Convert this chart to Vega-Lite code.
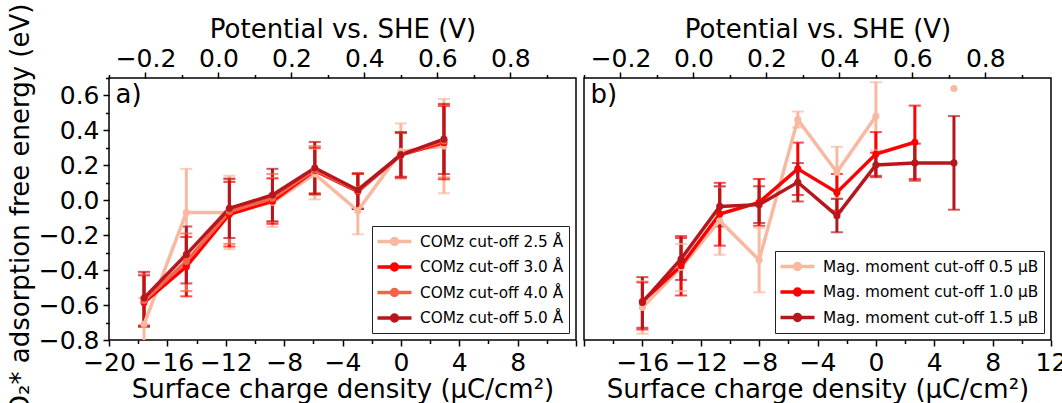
{
  "$schema": "https://vega.github.io/schema/vega-lite/v6.json",
  "padding": {"left": 6, "top": 2, "right": 5, "bottom": 0},
  "background": "white",
  "config": {
    "font": "DejaVu Sans",
    "view": {"stroke": "black", "strokeWidth": 1.5},
    "axis": {
      "domain": false, "grid": false,
      "labelFont": "DejaVu Sans", "titleFont": "DejaVu Sans",
      "labelFontSize": 25, "titleFontSize": 26, "titleFontWeight": "normal",
      "labelColor": "black", "titleColor": "black", "tickColor": "black",
      "tickWidth": 1.5, "labelFlush": false, "labelPadding": 4, "titlePadding": 1
    },
    "legend": {
      "orient": "bottom-right", "offset": 7, "title": null,
      "labelFont": "DejaVu Sans", "labelFontSize": 15.3, "labelColor": "black", "labelLimit": 400,
      "strokeColor": "#222222", "fillColor": "white", "padding": 5, "rowPadding": 4.5,
      "symbolType": "M-2,0L2,0M-0.35,0A0.35,0.35 0 1,1 0.35,0A0.35,0.35 0 1,1 -0.35,0Z",
      "symbolSize": 289, "symbolStrokeWidth": 3.5, "symbolOffset": 7, "labelOffset": 15, "symbolOpacity": 1
    }
  },
  "datasets": {
    "a": [
      {"s": "COMz cut-off 2.5 Å", "x": -17.6, "y": -0.71, "lo": -0.86, "hi": -0.56},
      {"s": "COMz cut-off 2.5 Å", "x": -14.7, "y": -0.07, "lo": -0.32, "hi": 0.18},
      {"s": "COMz cut-off 2.5 Å", "x": -11.75, "y": -0.07, "lo": -0.28, "hi": 0.14},
      {"s": "COMz cut-off 2.5 Å", "x": -8.8, "y": -0.012, "lo": -0.152, "hi": 0.128},
      {"s": "COMz cut-off 2.5 Å", "x": -5.9, "y": 0.15, "lo": 0.005, "hi": 0.295},
      {"s": "COMz cut-off 2.5 Å", "x": -2.95, "y": -0.06, "lo": -0.195, "hi": 0.075},
      {"s": "COMz cut-off 2.5 Å", "x": 0.0, "y": 0.28, "lo": 0.12, "hi": 0.44},
      {"s": "COMz cut-off 2.5 Å", "x": 2.95, "y": 0.31, "lo": 0.04, "hi": 0.58},
      {"s": "COMz cut-off 3.0 Å", "x": -17.6, "y": -0.585, "lo": -0.725, "hi": -0.43},
      {"s": "COMz cut-off 3.0 Å", "x": -14.7, "y": -0.38, "lo": -0.55, "hi": -0.21},
      {"s": "COMz cut-off 3.0 Å", "x": -11.75, "y": -0.08, "lo": -0.265, "hi": 0.105},
      {"s": "COMz cut-off 3.0 Å", "x": -8.8, "y": -0.005, "lo": -0.135, "hi": 0.125},
      {"s": "COMz cut-off 3.0 Å", "x": -5.9, "y": 0.17, "lo": 0.04, "hi": 0.3},
      {"s": "COMz cut-off 3.0 Å", "x": -2.95, "y": 0.05, "lo": -0.05, "hi": 0.15},
      {"s": "COMz cut-off 3.0 Å", "x": 0.0, "y": 0.26, "lo": 0.135, "hi": 0.385},
      {"s": "COMz cut-off 3.0 Å", "x": 2.95, "y": 0.33, "lo": 0.12, "hi": 0.54},
      {"s": "COMz cut-off 4.0 Å", "x": -17.6, "y": -0.575, "lo": -0.715, "hi": -0.425},
      {"s": "COMz cut-off 4.0 Å", "x": -14.7, "y": -0.35, "lo": -0.52, "hi": -0.19},
      {"s": "COMz cut-off 4.0 Å", "x": -11.75, "y": -0.065, "lo": -0.25, "hi": 0.12},
      {"s": "COMz cut-off 4.0 Å", "x": -8.8, "y": 0.01, "lo": -0.125, "hi": 0.15},
      {"s": "COMz cut-off 4.0 Å", "x": -5.9, "y": 0.175, "lo": 0.03, "hi": 0.31},
      {"s": "COMz cut-off 4.0 Å", "x": -2.95, "y": 0.055, "lo": -0.045, "hi": 0.155},
      {"s": "COMz cut-off 4.0 Å", "x": 0.0, "y": 0.26, "lo": 0.13, "hi": 0.39},
      {"s": "COMz cut-off 4.0 Å", "x": 2.95, "y": 0.34, "lo": 0.13, "hi": 0.545},
      {"s": "COMz cut-off 5.0 Å", "x": -17.6, "y": -0.56, "lo": -0.72, "hi": -0.41},
      {"s": "COMz cut-off 5.0 Å", "x": -14.7, "y": -0.31, "lo": -0.476, "hi": -0.15},
      {"s": "COMz cut-off 5.0 Å", "x": -11.75, "y": -0.046, "lo": -0.216, "hi": 0.124},
      {"s": "COMz cut-off 5.0 Å", "x": -8.8, "y": 0.03, "lo": -0.12, "hi": 0.18},
      {"s": "COMz cut-off 5.0 Å", "x": -5.9, "y": 0.185, "lo": 0.036, "hi": 0.334},
      {"s": "COMz cut-off 5.0 Å", "x": -2.95, "y": 0.059, "lo": -0.05, "hi": 0.154},
      {"s": "COMz cut-off 5.0 Å", "x": 0.0, "y": 0.26, "lo": 0.13, "hi": 0.39},
      {"s": "COMz cut-off 5.0 Å", "x": 2.95, "y": 0.35, "lo": 0.15, "hi": 0.552}
    ],
    "b": [
      {"s": "Mag. moment cut-off 0.5 μB", "x": -16.0, "y": -0.614, "lo": -0.764, "hi": -0.464},
      {"s": "Mag. moment cut-off 0.5 μB", "x": -13.35, "y": -0.384, "lo": -0.52, "hi": -0.25},
      {"s": "Mag. moment cut-off 0.5 μB", "x": -10.7, "y": -0.117, "lo": -0.312, "hi": 0.078},
      {"s": "Mag. moment cut-off 0.5 μB", "x": -8.0, "y": -0.342, "lo": -0.527, "hi": -0.157},
      {"s": "Mag. moment cut-off 0.5 μB", "x": -5.35, "y": 0.462, "lo": 0.416, "hi": 0.508},
      {"s": "Mag. moment cut-off 0.5 μB", "x": -2.67, "y": 0.16, "lo": 0.013, "hi": 0.307},
      {"s": "Mag. moment cut-off 0.5 μB", "x": 0.0, "y": 0.481, "lo": 0.286, "hi": 0.676},
      {"s": "Mag. moment cut-off 0.5 μB", "x": 2.67, "y": null, "lo": null, "hi": null},
      {"s": "Mag. moment cut-off 0.5 μB", "x": 5.35, "y": 0.64, "lo": null, "hi": null},
      {"s": "Mag. moment cut-off 1.0 μB", "x": -16.0, "y": -0.58, "lo": -0.74, "hi": -0.47},
      {"s": "Mag. moment cut-off 1.0 μB", "x": -13.35, "y": -0.375, "lo": -0.545, "hi": -0.205},
      {"s": "Mag. moment cut-off 1.0 μB", "x": -10.7, "y": -0.079, "lo": -0.26, "hi": 0.1},
      {"s": "Mag. moment cut-off 1.0 μB", "x": -8.0, "y": -0.012, "lo": -0.146, "hi": 0.122},
      {"s": "Mag. moment cut-off 1.0 μB", "x": -5.35, "y": 0.18, "lo": 0.03, "hi": 0.33},
      {"s": "Mag. moment cut-off 1.0 μB", "x": -2.67, "y": 0.045, "lo": -0.06, "hi": 0.15},
      {"s": "Mag. moment cut-off 1.0 μB", "x": 0.0, "y": 0.265, "lo": 0.14, "hi": 0.39},
      {"s": "Mag. moment cut-off 1.0 μB", "x": 2.67, "y": 0.332, "lo": 0.122, "hi": 0.542},
      {"s": "Mag. moment cut-off 1.5 μB", "x": -16.0, "y": -0.585, "lo": -0.73, "hi": -0.44},
      {"s": "Mag. moment cut-off 1.5 μB", "x": -13.35, "y": -0.336, "lo": -0.456, "hi": -0.216},
      {"s": "Mag. moment cut-off 1.5 μB", "x": -10.7, "y": -0.035, "lo": -0.15, "hi": 0.08},
      {"s": "Mag. moment cut-off 1.5 μB", "x": -8.0, "y": -0.025, "lo": -0.13, "hi": 0.08},
      {"s": "Mag. moment cut-off 1.5 μB", "x": -5.35, "y": 0.103, "lo": -0.007, "hi": 0.213},
      {"s": "Mag. moment cut-off 1.5 μB", "x": -2.67, "y": -0.088, "lo": -0.183, "hi": 0.007},
      {"s": "Mag. moment cut-off 1.5 μB", "x": 0.0, "y": 0.202, "lo": 0.132, "hi": 0.272},
      {"s": "Mag. moment cut-off 1.5 μB", "x": 2.67, "y": 0.214, "lo": 0.112, "hi": 0.324},
      {"s": "Mag. moment cut-off 1.5 μB", "x": 5.35, "y": 0.214, "lo": -0.054, "hi": 0.482}
    ],
    "va": [{"V": -0.3}, {"V": 0.98}]
  },
  "hconcat": [
    {
      "width": 467, "height": 262,
      "layer": [
        {
          "data": {"name": "a"},
          "layer": [
            {"mark": {"type": "rule", "strokeWidth": 3, "clip": true},
             "encoding": {
               "x": {"field": "x", "type": "quantitative", "scale": {"domain": [-20, 12], "nice": false, "zero": false}, "title": "Surface charge density (µC/cm²)",
                     "axis": {"values": [-20,-18,-16,-14,-12,-10,-8,-6,-4,-2,0,2,4,6,8,10,12], "tickCount": 100, "format": "d", "labelOverlap": false, "labelExpr": "datum.value % 4 === 0 && datum.value < 12 ? datum.label : ''", "tickSize": {"condition": {"test": "datum.value % 4 === 0", "value": 6}, "value": 3.5}}},
               "y": {"field": "lo", "type": "quantitative", "scale": {"domain": [-0.8, 0.7], "nice": false, "zero": false}, "title": "O₂* adsorption free energy (eV)",
                     "axis": {"values": [-0.8,-0.7,-0.6,-0.5,-0.4,-0.3,-0.2,-0.1,0,0.1,0.2,0.3,0.4,0.5,0.6,0.7], "tickCount": 100, "format": ".1f", "labelOverlap": false,
                              "labelExpr": "abs(round(datum.value*10)) % 2 === 0 && datum.value < 0.65 ? datum.label : ''",
                              "tickSize": {"condition": {"test": "abs(round(datum.value*10)) % 2 === 0", "value": 6}, "value": 3.5}, "titlePadding": 5}},
               "y2": {"field": "hi"},
               "stroke": {"field": "s", "type": "nominal", "scale": {"domain": ["COMz cut-off 2.5 Å", "COMz cut-off 3.0 Å", "COMz cut-off 4.0 Å", "COMz cut-off 5.0 Å"], "range": ["#f9b8a0", "#ff0000", "#f3634a", "#b5171d"]}}
             }},
            {"mark": {"type": "tick", "orient": "horizontal", "size": 12, "thickness": 2, "clip": true},
             "encoding": {
               "x": {"field": "x", "type": "quantitative", "title": "Surface charge density (µC/cm²)"},
               "y": {"field": "lo", "type": "quantitative", "title": "O₂* adsorption free energy (eV)"},
               "fill": {"field": "s", "type": "nominal", "scale": {"domain": ["COMz cut-off 2.5 Å", "COMz cut-off 3.0 Å", "COMz cut-off 4.0 Å", "COMz cut-off 5.0 Å"], "range": ["#f9b8a0", "#ff0000", "#f3634a", "#b5171d"]}}
             }},
            {"mark": {"type": "tick", "orient": "horizontal", "size": 12, "thickness": 2, "clip": true},
             "encoding": {
               "x": {"field": "x", "type": "quantitative", "title": "Surface charge density (µC/cm²)"},
               "y": {"field": "hi", "type": "quantitative", "title": "O₂* adsorption free energy (eV)"},
               "fill": {"field": "s", "type": "nominal"}
             }},
            {"mark": {"type": "line", "strokeWidth": 3.5, "clip": true},
             "encoding": {
               "x": {"field": "x", "type": "quantitative", "title": "Surface charge density (µC/cm²)"},
               "y": {"field": "y", "type": "quantitative", "title": "O₂* adsorption free energy (eV)"},
               "stroke": {"field": "s", "type": "nominal"}
             }},
            {"mark": {"type": "point", "filled": true, "size": 50, "opacity": 1, "clip": true},
             "encoding": {
               "x": {"field": "x", "type": "quantitative", "title": "Surface charge density (µC/cm²)"},
               "y": {"field": "y", "type": "quantitative", "title": "O₂* adsorption free energy (eV)"},
               "fill": {"field": "s", "type": "nominal"}
             }},
            {"data": {"values": [{"t": "a)", "x": -19.55, "y": 0.6}]},
             "mark": {"type": "text", "fontSize": 26, "align": "left", "baseline": "middle", "font": "DejaVu Sans", "color": "black"},
             "encoding": {
               "x": {"field": "x", "type": "quantitative", "title": "Surface charge density (µC/cm²)"},
               "y": {"field": "y", "type": "quantitative", "title": "O₂* adsorption free energy (eV)"},
               "text": {"field": "t"}
             }}
          ]
        },
        {"data": {"name": "va"},
         "mark": {"type": "point", "opacity": 0},
         "encoding": {
           "x": {"field": "V", "type": "quantitative", "scale": {"domain": [-0.3, 0.98], "nice": false, "zero": false}, "title": "Potential vs. SHE (V)",
                 "axis": {"orient": "top", "values": [-0.3,-0.2,-0.1,0,0.1,0.2,0.3,0.4,0.5,0.6,0.7,0.8,0.9], "tickCount": 100, "format": ".1f", "labelOverlap": false, "labelPadding": 1, "labelExpr": "abs(round(datum.value*10)) % 2 === 0 ? datum.label : ''", "tickSize": {"condition": {"test": "abs(round(datum.value*10)) % 2 === 0", "value": 6}, "value": 3.5}, "titlePadding": 4}}
         }}
      ],
      "resolve": {"scale": {"x": "independent"}, "axis": {"x": "independent"}}
    },
    {
      "width": 467, "height": 262,
      "layer": [
        {
          "data": {"name": "b"},
          "layer": [
            {"mark": {"type": "rule", "strokeWidth": 3, "clip": true},
             "encoding": {
               "x": {"field": "x", "type": "quantitative", "scale": {"domain": [-20, 12], "nice": false, "zero": false}, "title": "Surface charge density (µC/cm²)",
                     "axis": {"values": [-20,-18,-16,-14,-12,-10,-8,-6,-4,-2,0,2,4,6,8,10,12], "tickCount": 100, "format": "d", "labelOverlap": false, "labelExpr": "datum.value % 4 === 0 && datum.value > -20 ? datum.label : ''", "tickSize": {"condition": {"test": "datum.value % 4 === 0", "value": 6}, "value": 3.5}}},
               "y": {"field": "lo", "type": "quantitative", "scale": {"domain": [-0.8, 0.7], "nice": false, "zero": false}, "axis": null},
               "y2": {"field": "hi"},
               "stroke": {"field": "s", "type": "nominal", "scale": {"domain": ["Mag. moment cut-off 0.5 μB", "Mag. moment cut-off 1.0 μB", "Mag. moment cut-off 1.5 μB"], "range": ["#f9b8a0", "#ff0000", "#b5171d"]}}
             }},
            {"mark": {"type": "tick", "orient": "horizontal", "size": 12, "thickness": 2, "clip": true},
             "encoding": {
               "x": {"field": "x", "type": "quantitative", "title": "Surface charge density (µC/cm²)"},
               "y": {"field": "lo", "type": "quantitative", "axis": null},
               "fill": {"field": "s", "type": "nominal", "scale": {"domain": ["Mag. moment cut-off 0.5 μB", "Mag. moment cut-off 1.0 μB", "Mag. moment cut-off 1.5 μB"], "range": ["#f9b8a0", "#ff0000", "#b5171d"]}}
             }},
            {"mark": {"type": "tick", "orient": "horizontal", "size": 12, "thickness": 2, "clip": true},
             "encoding": {
               "x": {"field": "x", "type": "quantitative", "title": "Surface charge density (µC/cm²)"},
               "y": {"field": "hi", "type": "quantitative", "axis": null},
               "fill": {"field": "s", "type": "nominal"}
             }},
            {"mark": {"type": "line", "strokeWidth": 3.5, "clip": true, "invalid": "break-paths-show-domains"},
             "encoding": {
               "x": {"field": "x", "type": "quantitative", "title": "Surface charge density (µC/cm²)"},
               "y": {"field": "y", "type": "quantitative", "axis": null},
               "stroke": {"field": "s", "type": "nominal"}
             }},
            {"mark": {"type": "point", "filled": true, "size": 50, "opacity": 1, "clip": true},
             "encoding": {
               "x": {"field": "x", "type": "quantitative", "title": "Surface charge density (µC/cm²)"},
               "y": {"field": "y", "type": "quantitative", "axis": null},
               "fill": {"field": "s", "type": "nominal"}
             }},
            {"data": {"values": [{"t": "b)", "x": -19.55, "y": 0.6}]},
             "mark": {"type": "text", "fontSize": 26, "align": "left", "baseline": "middle", "font": "DejaVu Sans", "color": "black"},
             "encoding": {
               "x": {"field": "x", "type": "quantitative", "title": "Surface charge density (µC/cm²)"},
               "y": {"field": "y", "type": "quantitative", "axis": null},
               "text": {"field": "t"}
             }}
          ]
        },
        {"data": {"name": "va"},
         "mark": {"type": "point", "opacity": 0},
         "encoding": {
           "x": {"field": "V", "type": "quantitative", "scale": {"domain": [-0.3, 0.98], "nice": false, "zero": false}, "title": "Potential vs. SHE (V)",
                 "axis": {"orient": "top", "values": [-0.3,-0.2,-0.1,0,0.1,0.2,0.3,0.4,0.5,0.6,0.7,0.8,0.9], "tickCount": 100, "format": ".1f", "labelOverlap": false, "labelPadding": 1, "labelExpr": "abs(round(datum.value*10)) % 2 === 0 ? datum.label : ''", "tickSize": {"condition": {"test": "abs(round(datum.value*10)) % 2 === 0", "value": 6}, "value": 3.5}, "titlePadding": 4}}
         }}
      ],
      "resolve": {"scale": {"x": "independent"}, "axis": {"x": "independent"}}
    }
  ],
  "spacing": 0,
  "resolve": {"scale": {"fill": "independent", "stroke": "independent"}, "legend": {"fill": "independent", "stroke": "independent"}}
}
